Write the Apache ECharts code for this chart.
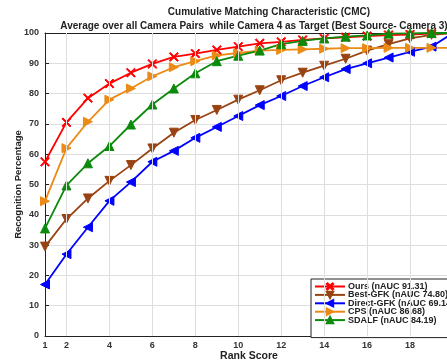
<!DOCTYPE html>
<html>
<head>
<meta charset="utf-8">
<script src="https://cdn.jsdelivr.net/npm/echarts@6/dist/echarts.min.js"></script>
<style>
  html, body { margin: 0; padding: 0; background: #fff; }
  #chart { width: 447px; height: 362px; }
</style>
</head>
<body>
<div id="chart"></div>
<script>
const ranks = [1, 2, 3, 4, 5, 6, 7, 8, 9, 10, 11, 12, 13, 14, 15, 16, 17, 18, 19, 20];
const ours = [57.5, 70.5, 78.5, 83.3, 86.9, 89.8, 92.1, 93.2, 94.4, 95.5, 96.6, 97.1, 97.7, 98.2, 98.6, 99.0, 99.3, 99.5, 99.8, 100];
const bestGfk = [29.5, 38.6, 45.4, 51.2, 56.4, 61.9, 67.1, 71.3, 74.6, 78.0, 81.1, 84.4, 86.9, 89.2, 91.5, 94.2, 96.3, 98.2, 99.4, 100];
const directGfk = [17.0, 27.0, 35.9, 44.6, 50.8, 57.5, 61.1, 65.4, 69.0, 72.6, 76.2, 79.2, 82.5, 85.4, 88.1, 90.0, 91.9, 93.8, 95.5, 100];
const cps = [44.5, 62.0, 70.7, 78.0, 81.7, 85.7, 88.7, 90.7, 92.6, 93.4, 94.2, 94.4, 94.6, 94.8, 95.0, 95.0, 95.1, 95.1, 95.1, 95.1];
const sdalf = [35.5, 49.7, 57.0, 62.7, 69.8, 76.4, 81.7, 86.7, 90.7, 92.5, 94.2, 96.3, 97.4, 98.2, 98.8, 99.2, 99.8, 99.9, 100, 100];
const seriesNames = ['Ours (nAUC 91.31)', 'Best-GFK (nAUC 74.80)', 'Direct-GFK (nAUC 69.14)', 'CPS (nAUC 86.68)', 'SDALF (nAUC 84.19)'];
const xTicks = [1, 2, 4, 6, 8, 10, 12, 14, 16, 18, 20];

const crossSymbol = 'path://M1,0 L5,4 L9,0 L10,1 L6,5 L10,9 L9,10 L5,6 L1,10 L0,9 L4,5 L0,1 Z';

const chart = echarts.init(document.getElementById('chart'));

function pairs(values) {
    return ranks.map((r, i) => [r, values[i]]);
}

function linea(name, values, color, symbol, rotate) {
    return {
        name: name,
        type: 'line',
        data: pairs(values),
        symbol: symbol,
        symbolSize: 9,
        symbolRotate: rotate,
        lineStyle: { color: color, width: 1.8 },
        itemStyle: { color: color, borderColor: color, borderWidth: 1 },
        emphasis: { disabled: true },
        z: 3
    };
}

const labelFont = { fontFamily: 'Liberation Sans', fontWeight: 'bold', fontSize: 9, color: '#333' };
const titleFont = { fontFamily: 'Liberation Sans', fontWeight: 'bold', fontSize: 10, color: '#222' };

chart.setOption({
    animation: false,
    title: [
        {
            text: 'Cumulative Matching Characteristic (CMC)',
            left: 264, top: 2, textAlign: 'center',
            textStyle: titleFont
        },
        {
            text: 'Average over all Camera Pairs  while Camera 4 as Target (Best Source- Camera 3)',
            left: 249, top: 16, textAlign: 'center',
            textStyle: titleFont
        }
    ],
    legend: {
        orient: 'vertical',
        left: 311, top: 279,
        data: seriesNames,
        itemWidth: 30, itemHeight: 8, itemGap: -0.6,
        padding: [3, 40, 13, 3],
        backgroundColor: '#fff',
        borderColor: '#222', borderWidth: 1,
        borderRadius: 0,
        selectedMode: false,
        textStyle: { fontFamily: 'Liberation Sans', fontWeight: 'bold', fontSize: 9, color: '#222', padding: [0, 0, 0, -2] }
    },
    grid: { left: 45, top: 33, width: 408, height: 303, outerBoundsMode: 'none', containLabel: false },
    xAxis: [
        {
            type: 'value', min: 1, max: 20, interval: 1,
            name: 'Rank Score', nameLocation: 'middle', nameGap: 15, nameMoveOverlap: false,
            nameTextStyle: { fontFamily: 'Liberation Sans', fontWeight: 'bold', fontSize: 10.5, color: '#222' },
            axisLine: { lineStyle: { color: '#222', width: 1 } },
            axisTick: { inside: true, length: 4, customValues: xTicks, lineStyle: { color: '#222' } },
            axisLabel: Object.assign({ margin: 5, customValues: xTicks }, labelFont),
            splitLine: { show: false }
        },
        {
            type: 'value', min: 1, max: 20, position: 'top',
            axisLine: { onZero: false, lineStyle: { color: '#222', width: 1 } },
            axisTick: { inside: true, length: 4, customValues: xTicks, lineStyle: { color: '#222' } },
            axisLabel: { show: false },
            splitLine: { show: false }
        }
    ],
    yAxis: {
        type: 'value', min: 0, max: 100, interval: 10,
        name: 'Recognition Percentage', nameLocation: 'middle', nameGap: 22, nameMoveOverlap: false,
        nameTextStyle: { fontFamily: 'Liberation Sans', fontWeight: 'bold', fontSize: 9.5, color: '#222' },
        axisLine: { show: true, lineStyle: { color: '#222', width: 1 } },
        axisTick: { show: true, inside: true, length: 4, lineStyle: { color: '#222' } },
        axisLabel: Object.assign({ margin: 6 }, labelFont),
        splitLine: { show: true, lineStyle: { color: '#dedede', width: 1 } }
    },
    series: [
        linea(seriesNames[0], ours, '#ff0000', crossSymbol, 0),
        linea(seriesNames[1], bestGfk, '#9a4312', 'triangle', 180),
        linea(seriesNames[2], directGfk, '#0000ff', 'triangle', 90),
        linea(seriesNames[3], cps, '#ec8a16', 'triangle', -90),
        linea(seriesNames[4], sdalf, '#0c8a0c', 'triangle', 0),
        {
            name: 'xgrid', type: 'line', data: [], silent: true,
            markLine: {
                silent: true, symbol: 'none', label: { show: false },
                lineStyle: { color: '#dedede', type: 'solid', width: 1 },
                data: xTicks.slice(1).map(v => ({ xAxis: v }))
            },
            z: 1
        }
    ]
});
</script>
</body>
</html>
